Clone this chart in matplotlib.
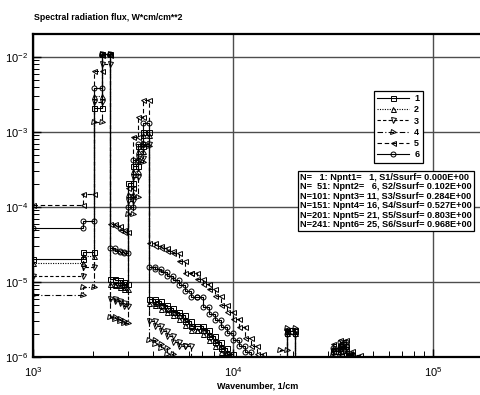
import matplotlib
matplotlib.use('Agg')
import matplotlib.pyplot as plt
import numpy as np

plt.rcParams['font.family'] = ['Liberation Sans', 'DejaVu Sans']

# band edges, 1/cm
edges = [1000, 1778, 2018, 2213, 2427, 2570, 2723, 2851, 2985, 3162, 3350, 3548,
         3802, 4074, 4365, 4677, 5012, 5370, 5754, 6166, 6607, 7079, 7586, 8128,
         8710, 9333, 10000, 10715, 11482, 12303, 13183, 14125, 17179, 18621, 20417,
         31623, 34277, 36728, 39355, 43152, 47315]

# flux in each band for the six runs (0 = below the plot)
flux1 = [2.0e-5, 2.5e-5, 2.1e-3, 1.1e-2, 1.1e-5, 1.05e-5, 1.0e-5, 9.5e-6, 2.1e-4, 3.5e-4, 6.5e-4, 1.0e-3,
         6.0e-6, 5.5e-6, 5.0e-6, 4.5e-6, 4.0e-6, 3.6e-6, 3.0e-6, 2.6e-6, 2.6e-6, 2.3e-6, 1.9e-6, 1.6e-6,
         1.3e-6, 1.1e-6, 0, 0, 0, 0, 0, 0, 0, 2.2e-6, 0, 1.2e-6, 1.4e-6, 1.05e-6, 0, 0]
flux2 = [1.8e-5, 2.2e-5, 3.0e-3, 1.1e-2, 9.5e-6, 9.0e-6, 8.5e-6, 8.0e-6, 1.5e-4, 3.0e-4, 5.5e-4, 9.0e-4,
         5.3e-6, 4.9e-6, 4.4e-6, 4.0e-6, 3.6e-6, 3.2e-6, 2.7e-6, 2.3e-6, 2.3e-6, 2.0e-6, 1.7e-6, 1.4e-6,
         1.15e-6, 0, 0, 0, 0, 0, 0, 0, 0, 2.1e-6, 0, 1.3e-6, 1.5e-6, 0, 0, 0]
flux3 = [1.2e-5, 1.6e-5, 2.5e-3, 8.0e-3, 6.0e-6, 5.6e-6, 5.2e-6, 4.8e-6, 1.2e-4, 2.5e-4, 4.5e-4, 7.0e-4,
         3.0e-6, 2.6e-6, 2.2e-6, 1.9e-6, 1.6e-6, 1.4e-6, 1.4e-6, 0, 0, 0, 0, 0,
         0, 0, 0, 0, 0, 0, 0, 0, 0, 2.2e-6, 0, 1.2e-6, 0, 0, 0, 0]
flux4 = [6.7e-6, 8.5e-6, 1.35e-3, 1.1e-2, 3.4e-6, 3.2e-6, 3.0e-6, 2.8e-6, 8.0e-5, 1.35e-4, 4.0e-4, 6.5e-4,
         1.7e-6, 1.5e-6, 1.3e-6, 1.1e-6, 0, 0, 0, 0, 0, 0, 0, 0,
         0, 0, 0, 0, 0, 0, 0, 0, 1.25e-6, 2.4e-6, 0, 1.1e-6, 1.3e-6, 0, 0, 0]
flux5 = [1.05e-4, 1.5e-4, 6.5e-3, 1.05e-2, 6.0e-5, 5.5e-5, 5.0e-5, 4.6e-5, 1.8e-4, 8.6e-4, 1.6e-3, 2.7e-3,
         3.3e-5, 3.0e-5, 2.8e-5, 2.6e-5, 2.4e-5, 1.9e-5, 1.3e-5, 1.3e-5, 1.1e-5, 9.5e-6, 8.0e-6, 6.5e-6,
         5.0e-6, 4.0e-6, 3.2e-6, 2.5e-6, 1.8e-6, 1.4e-6, 1.1e-6, 0, 0, 2.3e-6, 0, 1.5e-6, 1.7e-6, 1.2e-6, 1.05e-6, 0]
flux6 = [5.2e-5, 6.5e-5, 3.9e-3, 1.1e-2, 2.8e-5, 2.6e-5, 2.5e-5, 2.4e-5, 1.0e-4, 4.2e-4, 7.0e-4, 1.3e-3,
         1.6e-5, 1.5e-5, 1.35e-5, 1.2e-5, 1.05e-5, 9.0e-6, 7.5e-6, 6.3e-6, 6.3e-6, 4.6e-6, 3.8e-6, 3.1e-6,
         2.5e-6, 2.1e-6, 1.7e-6, 1.4e-6, 1.15e-6, 0, 0, 0, 0, 2.0e-6, 0, 1.3e-6, 1.6e-6, 1.1e-6, 0, 0]

labels = ['1', '2', '3', '4', '5', '6']
info_lines = [
    'N=   1: Npnt1=   1, S1/Ssurf= 0.000E+00',
    'N=  51: Npnt2=   6, S2/Ssurf= 0.102E+00',
    'N=101: Npnt3= 11, S3/Ssurf= 0.284E+00',
    'N=151: Npnt4= 16, S4/Ssurf= 0.527E+00',
    'N=201: Npnt5= 21, S5/Ssurf= 0.803E+00',
    'N=241: Npnt6= 25, S6/Ssurf= 0.968E+00',
]

styles = [
    ('-', 's'),
    ((0, (1, 1.2)), '^'),
    ((0, (3, 2)), 'v'),
    ((0, (5, 2, 1, 2)), '>'),
    ((0, (4, 2.5)), '<'),
    ('-', 'o'),
]


def band_steps(edges, vals):
    e = np.asarray(edges, dtype=float)
    v = np.asarray(vals, dtype=float)
    v = np.where(v > 0, v, 1e-9)
    x = np.repeat(e, 2)[1:-1]
    y = np.repeat(v, 2)
    return x, y


fig = plt.figure(figsize=(4.81, 3.95), dpi=100)
ax = fig.add_axes([33 / 481, 38 / 395, 449 / 481, 323 / 395])

for vals, lab, (ls, mk) in zip([flux1, flux2, flux3, flux4, flux5, flux6], labels, styles):
    x, y = band_steps(edges, vals)
    ax.plot(x, y, color='black', ls=ls, lw=0.8, marker=mk, ms=3.6,
            mfc='none', mec='black', mew=0.7, label=lab, zorder=3)

ax.set_xscale('log')
ax.set_yscale('log')
ax.set_xlim(1e3, 10 ** (3 + 449 / 200))
ax.set_ylim(1e-6, 10 ** (-2 + 23 / 75))

ax.grid(True, which='major', color='0.3', lw=1.0, zorder=1)
ax.tick_params(which='both', direction='in', top=False, right=False, labelsize=8, colors='black')
ax.tick_params(which='major', length=6, width=1)
ax.tick_params(which='minor', length=4, width=0.7)
ax.tick_params(axis='x', pad=6)
for s in ax.spines.values():
    s.set_linewidth(1.6)

ax.set_xlabel('Wavenumber, 1/cm', fontsize=6.5, fontweight='bold', labelpad=2)
fig.text(34 / 481, 1 - 17 / 395, 'Spectral radiation flux, W*cm/cm**2',
         fontsize=6.3, fontweight='bold', ha='left', va='center')

leg = ax.legend(loc='upper left', bbox_to_anchor=(369 / 481, 1 - 86 / 395),
                bbox_transform=fig.transFigure, fontsize=6.5, handlelength=3.5,
                handletextpad=0.6, borderpad=0.4, labelspacing=0.25, numpoints=1,
                fancybox=False, framealpha=1, edgecolor='black')
leg.get_frame().set_linewidth(0.9)
for t in leg.get_texts():
    t.set_fontweight('bold')

fig.text(300 / 481, 1 - 173 / 395, '\n'.join(info_lines), fontsize=6.6, fontweight='bold',
         ha='left', va='top', linespacing=1.06,
         bbox=dict(boxstyle='square,pad=0.2', facecolor='white', edgecolor='black', linewidth=0.9))

fig.savefig('out.png', dpi=100, facecolor='white')
